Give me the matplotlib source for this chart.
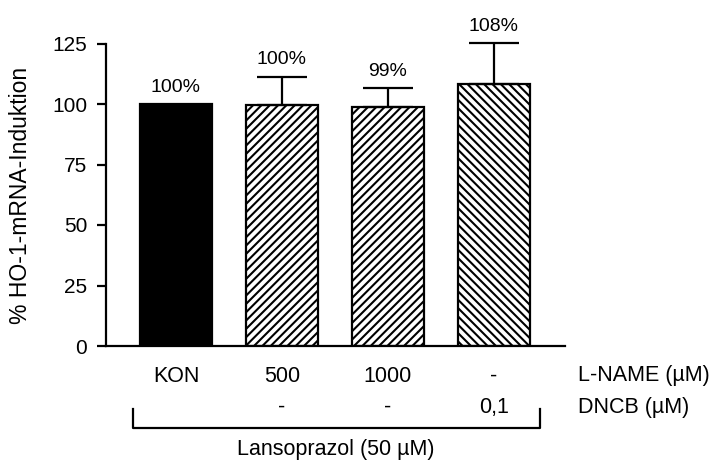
import matplotlib
matplotlib.use("Agg")
import matplotlib.pyplot as plt
from matplotlib.transforms import blended_transform_factory

plt.rcParams['font.family'] = ['Liberation Sans', 'DejaVu Sans']
plt.rcParams['hatch.linewidth'] = 1.5

categories = ["KON", "500", "1000", "-"]
dncb_labels = ["", "-", "-", "0,1"]
values = [100, 99.5, 98.9, 108.3]
errors = [0, 11.8, 7.7, 16.8]
pct_labels = ["100%", "100%", "99%", "108%"]
yticks = [0, 25, 50, 75, 100, 125]

fig = plt.figure(figsize=(7.23, 4.67), dpi=100)
W, H = 723, 467
ax = fig.add_axes([106 / W, 1 - 346 / H, (565 - 106) / W, (346 - 43.5) / H])

x = list(range(len(categories)))
fills = ['black', 'white', 'white', 'white']
hatches = [None, '////', '////', '\\\\\\\\']
for i in x:
    ax.bar(i, values[i], width=0.68, color=fills[i], edgecolor='black',
           linewidth=1.6, hatch=hatches[i], zorder=2)
    if errors[i] > 0:
        cont = ax.errorbar(i, values[i], yerr=[[0], [errors[i]]], fmt='none',
                           ecolor='black', elinewidth=1.6, capsize=18,
                           capthick=1.6, zorder=3)
        for art in cont.get_children():
            art.set_clip_on(False)
    ax.annotate(pct_labels[i], (i, values[i] + errors[i]), xytext=(0, 9),
                textcoords='offset points', ha='center', va='baseline',
                fontsize=14)

ax.set_xlim(-0.66, 3.67)
ax.set_ylim(0, 125)
ax.set_yticks(yticks)
ax.set_yticklabels([str(t) for t in yticks], fontsize=15)
ax.set_xticks([])
ax.spines['top'].set_visible(False)
ax.spines['right'].set_visible(False)
ax.spines['left'].set_linewidth(1.6)
ax.spines['bottom'].set_linewidth(1.6)
ax.tick_params(axis='y', direction='out', length=6.5, width=1.6, pad=7)
fig.text(21 / W, 1 - 195.5 / H, "% HO-1-mRNA-Induktion", rotation=90,
         ha='center', va='center', fontsize=16.5)

tr = blended_transform_factory(ax.transData, fig.transFigure)
y1 = 1 - 376 / H
y2 = 1 - 407 / H
fs = 15.5
for i in x:
    ax.text(i, y1, categories[i], transform=tr, ha='center', va='center',
            fontsize=fs, clip_on=False)
    if dncb_labels[i]:
        ax.text(i, y2, dncb_labels[i], transform=tr, ha='center',
                va='center', fontsize=fs, clip_on=False)
ax.text(3.79, y1, "L-NAME (µM)", transform=tr, ha='left', va='center',
        fontsize=fs, clip_on=False)
ax.text(3.79, y2, "DNCB (µM)", transform=tr, ha='left', va='center',
        fontsize=fs, clip_on=False)

bl, br = -0.41, 3.43
yb_top = 1 - 409 / H
yb_bot = 1 - 428 / H
ax.plot([bl, bl, br, br], [yb_top, yb_bot, yb_bot, yb_top], transform=tr,
        color='black', lw=1.6, clip_on=False)
ax.text((bl + br) / 2, 1 - 449 / H, "Lansoprazol (50 µM)", transform=tr,
        ha='center', va='center', fontsize=fs, clip_on=False)

fig.savefig("out.png", dpi=100)
